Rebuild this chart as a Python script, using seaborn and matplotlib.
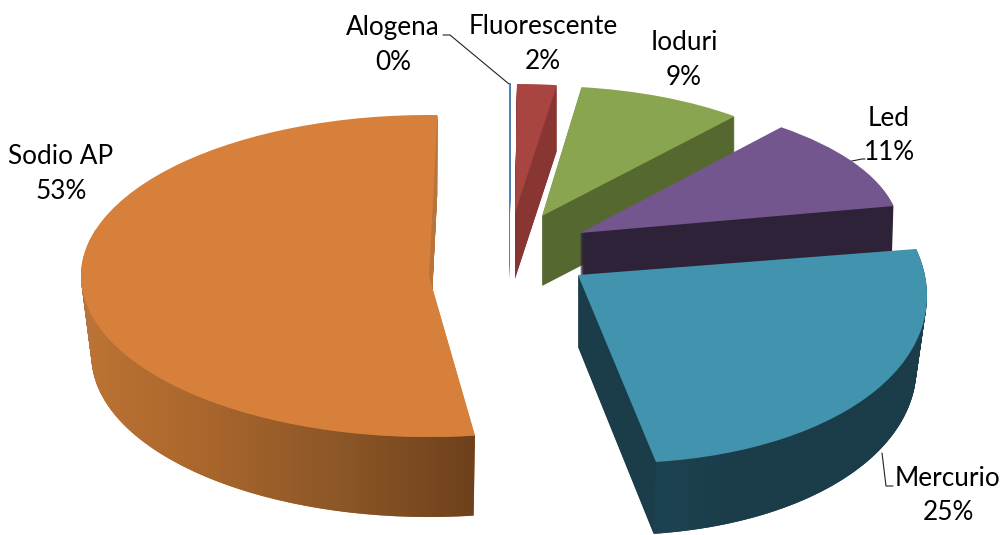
import numpy as np
import matplotlib
matplotlib.use("Agg")
import matplotlib.pyplot as plt
from matplotlib.colors import LinearSegmentedColormap
from matplotlib.patches import Polygon
from matplotlib.transforms import Affine2D
import seaborn as sns

# data
categories = ["Alogena", "Fluorescente", "Ioduri", "Led", "Mercurio", "Sodio AP"]
shares = [0.1, 2, 9, 11, 25.4, 52.5]
percent_labels = ["0%", "2%", "9%", "11%", "25%", "53%"]

# colours
top_colors = sns.color_palette(["#4f81bd", "#a84541", "#8aa54f", "#72568d", "#4193ae", "#d6803b"])
side_colors = ["#4f81bd", "#893532", "#55682f", "#2d2238", "#1b3c49", "#b8743a"]
wall_ramps = [None, None, None, None,
              ["#1d4352", "#1b3c49", "#1b3c49", "#1b3c49"],
              ["#bd7434", "#a8652c", "#8b5627", "#6e411c"]]

# layout (pixels of the picture)
apex_x = [509, 515, 542, 580, 578, 429]
apex_y = [213, 213, 216, 233, 275, 276]
radius_x = [315, 318, 300, 320, 349, 348]
radius_y = [130, 129, 130, 136, 187, 161]
depth_px = [68, 66, 70, 52, 72, 80]
turn_deg = [0, 0, 0, 1.0, 3.9, -1.4]
shear = [0, 0, 0, 0, 0.06, 0]
taper = [0, 0, 0, 0.005, 0.03, 0.03]
label_x = [393, 543, 684, 889, 948, 61]
label_y = [28, 27, 43, 118, 478, 157]
line_gap = 34.5
leaders = [[(509, 84), (450, 35), (443, 35)], None, None,
           [(847, 162), (862, 159), (865, 159)],
           [(882, 453), (886, 486), (893, 486)], None]

sns.set_theme(style="white")
plt.rcParams["font.family"] = ["Lato", "DejaVu Sans"]

W, H = 1002, 535
fig = plt.figure(figsize=(W / 100, H / 100), dpi=100)
ax = fig.add_axes([0, 0, 1, 1])


def wedge(share, start, color, cx, cy, rx, ry, k, z):
    parts, _ = ax.pie([share, 100 - share], startangle=start, colors=[color, "none"],
                      radius=1, wedgeprops=dict(linewidth=0))
    parts[1].remove()
    skew = Affine2D.from_values(1, k, 0, 1, 0, 0)
    parts[0].set_transform(Affine2D().scale(rx, -ry) + skew
                           + Affine2D().translate(cx, cy) + ax.transData)
    parts[0].set_zorder(z)


ax.set_xlim(0, W)
ax.set_ylim(H, 0)
angle = 90.0
for i, share in enumerate(shares):
    high = angle + turn_deg[i]
    low = high - 3.6 * share
    angle -= 3.6 * share
    cx, cy, rx, ry, d = apex_x[i], apex_y[i], radius_x[i], radius_y[i], depth_px[i]
    k = shear[i]
    z = 2 + i * 3
    for step in range(d, 0, -1):
        wedge(share, low, side_colors[i], cx, cy + step, rx * (1 - taper[i] * step / d), ry, k, z)
    if wall_ramps[i] is not None:
        t = np.radians(np.linspace(low, high, 240))
        t = t[np.sin(t) < 0.3]
        x_up = rx * np.cos(t)
        x_lo = rx * (1 - taper[i]) * np.cos(t)
        upper = np.c_[cx + x_up, cy - ry * np.sin(t) + k * x_up]
        lower = np.c_[cx + x_lo, cy + d - ry * np.sin(t) + k * x_lo]
        outline = np.vstack([upper, lower[::-1]])
        cmap = LinearSegmentedColormap.from_list("wall", wall_ramps[i])
        x0, x1 = outline[:, 0].min(), outline[:, 0].max()
        image = ax.imshow(np.linspace(0, 1, 256)[None, :], cmap=cmap, aspect="auto",
                          extent=(x0, x1, H, 0), zorder=z + 1)
        image.set_clip_path(Polygon(outline, closed=True, transform=ax.transData))
    wedge(share, low, top_colors[i], cx, cy, rx, ry, k, z + 2)

ax.set_aspect("auto")
ax.set_xlim(0, W)
ax.set_ylim(H, 0)
ax.axis("off")

for i, name in enumerate(categories):
    ax.text(label_x[i], label_y[i], name, ha="center", va="center", fontsize=18.8,
            color="black", zorder=40)
    ax.text(label_x[i], label_y[i] + line_gap, percent_labels[i], ha="center", va="center",
            fontsize=18.8, color="black", zorder=40)
    if leaders[i] is not None:
        xs, ys = zip(*leaders[i])
        ax.plot(xs, ys, color="#222222", lw=0.8, zorder=1)

fig.savefig("out.png", dpi=100, facecolor="white")
